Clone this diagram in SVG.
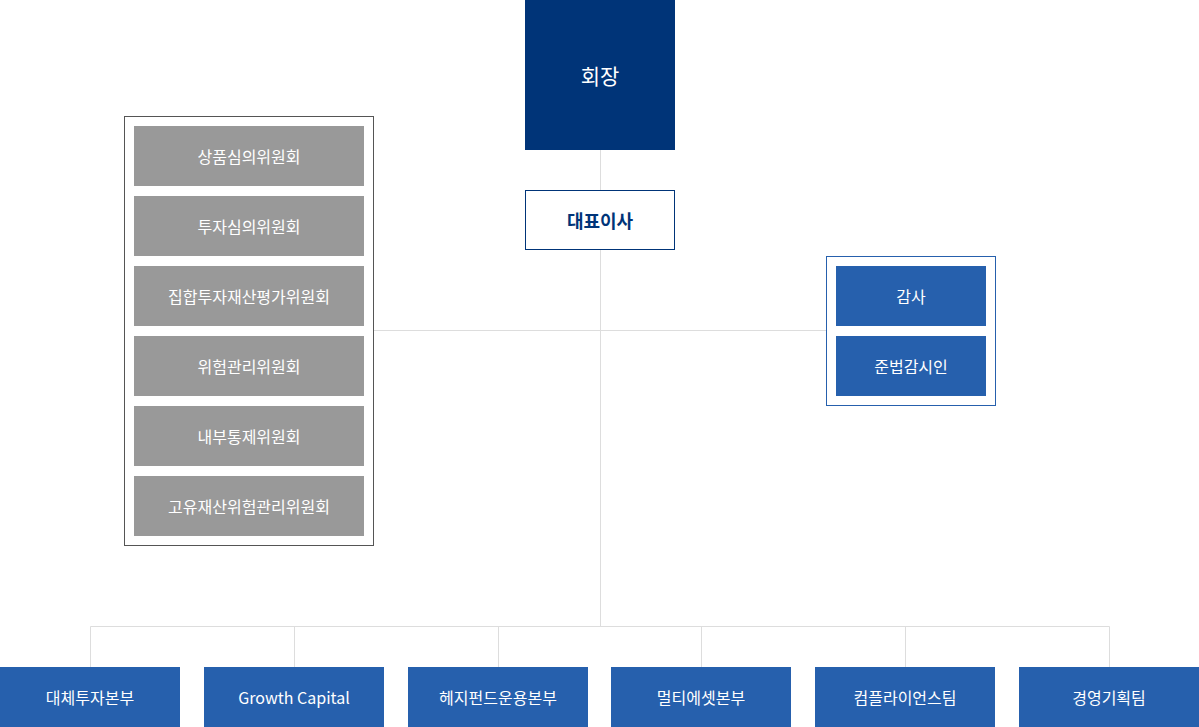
<svg xmlns="http://www.w3.org/2000/svg" width="1199" height="727" viewBox="0 0 1199 727">
<style>
text{font-family:"Noto Sans CJK KR","Noto Sans",sans-serif;text-anchor:middle;dominant-baseline:central}
.line{stroke:#dddddd;stroke-width:1;fill:none}
.grey rect{fill:#999999}
.grey text,.blue text{fill:#ffffff;font-size:16px}
.blue rect{fill:#2660ad}
</style>
<g id="connectors">
<path class="line" d="M600.5 150V626.5M373 330.5H826M90.5 667V626.5H1109.5V667M294.5 626.5V667M498.5 626.5V667M701.5 626.5V667M905.5 626.5V667"/>
</g>
<g id="chairman">
<rect x="525" y="0" width="150" height="150" fill="#003478"/>
<text x="600" y="75" fill="#ffffff" font-size="21">회장</text>
</g>
<g id="ceo">
<rect x="525.5" y="190.5" width="149" height="59" fill="#ffffff" stroke="#003478"/>
<text x="600" y="220" fill="#003478" font-size="18" font-weight="bold">대표이사</text>
</g>
<g id="committees">
<rect x="124.5" y="116.5" width="249" height="429" fill="#ffffff" stroke="#555555"/>
<g id="c1" class="grey"><rect x="134" y="126" width="230" height="60"/><text x="249" y="156">상품심의위원회</text></g>
<g id="c2" class="grey"><rect x="134" y="196" width="230" height="60"/><text x="249" y="226">투자심의위원회</text></g>
<g id="c3" class="grey"><rect x="134" y="266" width="230" height="60"/><text x="249" y="296">집합투자재산평가위원회</text></g>
<g id="c4" class="grey"><rect x="134" y="336" width="230" height="60"/><text x="249" y="366">위험관리위원회</text></g>
<g id="c5" class="grey"><rect x="134" y="406" width="230" height="60"/><text x="249" y="436">내부통제위원회</text></g>
<g id="c6" class="grey"><rect x="134" y="476" width="230" height="60"/><text x="249" y="506">고유재산위험관리위원회</text></g>
</g>
<g id="audit">
<rect x="826.5" y="256.5" width="169" height="149" fill="#ffffff" stroke="#2660ad"/>
<g id="a1" class="blue"><rect x="836" y="266" width="150" height="60"/><text x="911" y="296">감사</text></g>
<g id="a2" class="blue"><rect x="836" y="336" width="150" height="60"/><text x="911" y="366">준법감시인</text></g>
</g>
<g id="d1" class="blue"><rect x="0" y="667" width="180" height="60"/><text x="90" y="697">대체투자본부</text></g>
<g id="d2" class="blue"><rect x="204" y="667" width="180" height="60"/><text x="294" y="697">Growth Capital</text></g>
<g id="d3" class="blue"><rect x="408" y="667" width="180" height="60"/><text x="498" y="697">헤지펀드운용본부</text></g>
<g id="d4" class="blue"><rect x="611" y="667" width="180" height="60"/><text x="701" y="697">멀티에셋본부</text></g>
<g id="d5" class="blue"><rect x="815" y="667" width="180" height="60"/><text x="905" y="697">컴플라이언스팀</text></g>
<g id="d6" class="blue"><rect x="1019" y="667" width="180" height="60"/><text x="1109" y="697">경영기획팀</text></g>
</svg>
